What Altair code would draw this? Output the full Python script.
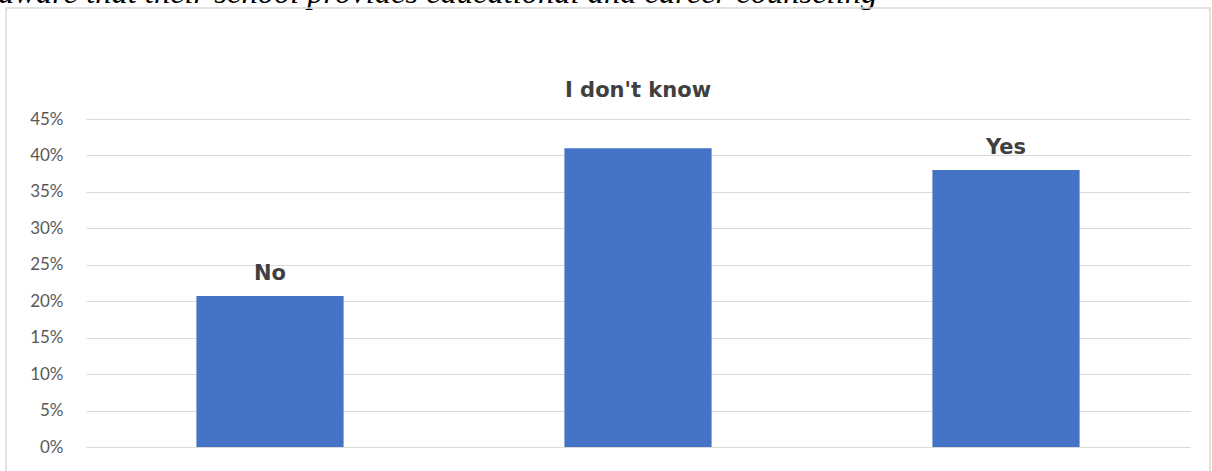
import altair as alt
import pandas as pd

categories = ["No", "I don't know", "Yes"]
shares = [0.207, 0.41, 0.38]
tick_values = [0, 0.05, 0.10, 0.15, 0.20, 0.25, 0.30, 0.35, 0.40, 0.45]
title_text = "aware that their school provides educational and career counseling"

df = pd.DataFrame({"answer": categories, "share": shares})

x_enc = alt.X("answer:N", sort=categories, axis=None,
              scale=alt.Scale(paddingInner=0.6, paddingOuter=0.3))
y_enc = alt.Y("share:Q",
              scale=alt.Scale(domain=[0, 0.45], nice=False),
              axis=alt.Axis(values=tick_values, format=".0%", tickCount=10,
                            title=None, domain=False, ticks=False, labelOverlap=False,
                            labelPadding=23, labelFontSize=17, labelColor="#595959",
                            labelFont="Lato", gridColor="#d9d9d9", gridWidth=1.2))

base = alt.Chart(df)

border = base.mark_rect(fillOpacity=0, stroke="#d9d9d9", strokeWidth=1.5).encode(
    x=alt.value(-80), x2=alt.value(1124), y=alt.value(-111), y2=alt.value(400)
).transform_filter(alt.datum.answer == "No")

bars = base.mark_bar(color="#4472C4").encode(x=x_enc, y=y_enc)

label_style = dict(fontSize=21, fontWeight="bold", color="#404040", font="DejaVu Sans",
                   align="center", baseline="alphabetic")

labels = base.mark_text(dy=-16, **label_style).encode(
    x=x_enc, y=y_enc, text="answer:N"
).transform_filter(alt.datum.answer != "I don't know")

label_mid = base.mark_text(dy=-51, **label_style).encode(
    x=x_enc, y=y_enc, text="answer:N"
).transform_filter(alt.datum.answer == "I don't know")

title = alt.Chart(pd.DataFrame({"t": [title_text]})).mark_text(
    font="Liberation Serif", fontStyle="italic", fontSize=32.5, color="black",
    align="left", baseline="alphabetic"
).encode(x=alt.value(-88), y=alt.value(-116), text="t:N")

chart = alt.layer(bars, labels, label_mid, title, border).properties(
    width=1104, height=328,
    background="white",
    autosize=alt.AutoSizeParams(type="none"),
    padding={"left": 86, "top": 119, "right": 22, "bottom": 24},
).configure_view(stroke="transparent", strokeWidth=0)

chart.save("out.html", embed_options={"renderer": "svg", "actions": False})
